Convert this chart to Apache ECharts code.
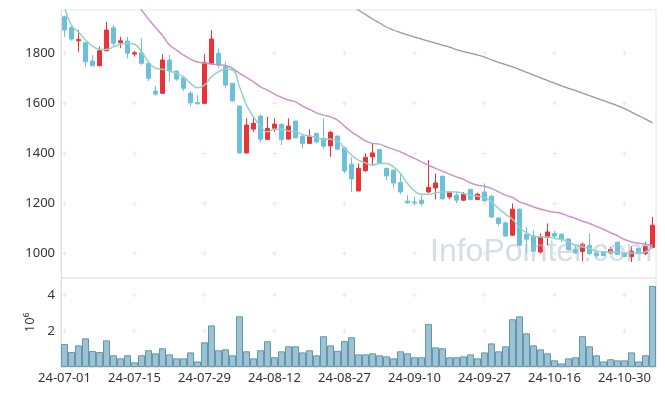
<!DOCTYPE html>
<html><head><meta charset="utf-8">
<script src="https://cdn.jsdelivr.net/npm/echarts@6/dist/echarts.min.js"></script>
<style>html,body{margin:0;padding:0;background:#fff}#c{width:665px;height:396px}</style>
</head><body><div id="c"></div>
<script>
const dates = ['24-07-01','24-07-02','24-07-03','24-07-04','24-07-05','24-07-08','24-07-09','24-07-10','24-07-11','24-07-12','24-07-15','24-07-16','24-07-17','24-07-18','24-07-19','24-07-22','24-07-23','24-07-24','24-07-25','24-07-26','24-07-29','24-07-30','24-07-31',
'24-08-01','24-08-02','24-08-05','24-08-06','24-08-07','24-08-08','24-08-09','24-08-12','24-08-13','24-08-14','24-08-16','24-08-19','24-08-20','24-08-21','24-08-22','24-08-23','24-08-26','24-08-27','24-08-28','24-08-29','24-08-30',
'24-09-02','24-09-03','24-09-04','24-09-05','24-09-06','24-09-09','24-09-10','24-09-11','24-09-12','24-09-13','24-09-19','24-09-20','24-09-23','24-09-24','24-09-25','24-09-26','24-09-27','24-09-30',
'24-10-02','24-10-04','24-10-07','24-10-08','24-10-10','24-10-11','24-10-14','24-10-15','24-10-16','24-10-17','24-10-18','24-10-21','24-10-22','24-10-23','24-10-24','24-10-25','24-10-28','24-10-29','24-10-30','24-10-31',
'24-11-01','24-11-04','24-11-05'];

const openP  = [1946,1904,1850,1842,1769,1750,1810,1902,1842,1849, 1797,1802,1760,1649,1640,1773,1729,1702,1640,1603, 1600,1760,1800,1746,1680,1589,1402,1497,1549,1456, 1500,1516,1457,1529,1469,1440,1480,1460,1430,1469, 1422,1357,1250,1331,1386,1416,1340,1333,1284,1209, 1206,1213,1246,1262,1309,1226,1233,1213,1256,1216, 1246,1229,1142,1122,1073,1177,1077,1069,1006,1064, 1080,1077,1058,1017,1008,1033,1002,1006,1002,1045, 1000,987,1020,1000,1024];
const closeP = [1893,1857,1855,1766,1750,1810,1893,1840,1850,1800, 1802,1760,1700,1637,1773,1730,1697,1660,1602,1598, 1764,1857,1753,1673,1610,1402,1513,1520,1456,1500, 1517,1456,1509,1462,1440,1469,1446,1429,1484,1417, 1330,1298,1340,1384,1402,1360,1310,1282,1246,1202, 1203,1200,1264,1282,1218,1244,1213,1237,1216,1237, 1210,1146,1120,1070,1177,1033,1057,1009,1066,1086, 1069,1057,1015,1002,1037,1000,991,992,1016,996, 988,1009,1000,1029,1113];
const lowP   = [1866,1850,1806,1746,1748,1748,1808,1830,1822,1780, 1786,1754,1689,1630,1638,1686,1690,1649,1589,1596, 1598,1753,1740,1660,1606,1400,1400,1486,1444,1454, 1486,1433,1455,1460,1420,1438,1440,1420,1386,1412, 1320,1246,1248,1326,1353,1358,1293,1260,1237,1200, 1193,1190,1240,1216,1216,1218,1200,1209,1212,1213, 1208,1144,1109,1066,1070,1030,1000,1006,1000,1033, 1060,1045,1012,1000,968,993,984,990,1000,994, 985,966,995,993,1020];
const highP  = [1950,1913,1893,1845,1793,1826,1926,1913,1866,1866, 1809,1860,1762,1669,1796,1793,1730,1705,1650,1633, 1796,1893,1820,1766,1682,1590,1540,1546,1556,1546, 1540,1520,1540,1530,1472,1496,1482,1540,1490,1472, 1428,1384,1360,1400,1440,1416,1342,1335,1320,1233, 1229,1233,1373,1320,1309,1250,1245,1246,1258,1243, 1280,1233,1144,1128,1200,1180,1105,1093,1080,1120, 1090,1080,1060,1035,1043,1080,1005,1008,1026,1046, 1002,1029,1022,1046,1146];

const maShort = [1985,1912,1885,1853,1829,1816,1815,1826,1836,1840, 1836,1806,1766,1740,1736,1729,1720,1706,1680,1662, 1673,1706,1726,1736,1733,1666,1593,1546,1509,1486, 1496,1496,1489,1486,1476,1469,1464,1456,1456,1450, 1420,1393,1373,1362,1353,1360,1360,1346,1320,1280, 1250,1237,1237,1242,1246,1246,1246,1240,1233,1229, 1224,1206,1180,1157,1137,1104,1082,1069,1066,1066, 1060,1057,1046,1033,1026,1020,1010,1006,1006,1005, 1002,1002,1002,1006,1029];
const maMid = [null,null,null,null,null,null,null,null,null,2050, 2010,1973,1937,1903,1871,1833,1813,1793,1777,1765, 1761,1757,1754,1751,1740,1720,1704,1686,1666,1653, 1637,1624,1613,1606,1589,1576,1562,1553,1546,1533, 1509,1486,1468,1450,1440,1437,1426,1416,1406,1393, 1380,1366,1353,1340,1329,1317,1306,1296,1282,1273, 1269,1260,1246,1233,1224,1206,1197,1186,1178,1170, 1165,1160,1149,1140,1129,1120,1108,1096,1083,1071, 1056,1046,1041,1037,1033];
const maLong = [null,null,null,null,null,null,null,null,null,null, null,null,null,null,null,null,null,null,null,null, null,null,null,null,null,null,null,null,null,null, null,null,null,null,null,null,null,null,null,null, null,1995,1973,1955,1937,1921,1905,1893,1883,1874, 1865,1857,1849,1841,1833,1825,1815,1807,1800,1793, 1785,1774,1764,1755,1746,1735,1724,1713,1702,1691, 1681,1670,1660,1651,1641,1631,1621,1611,1601,1591, 1579,1565,1551,1537,1522];

const volumeM = [1.28,0.83,1.20,1.59,0.89,0.83,1.48,0.65,0.48,0.65, 0.26,0.65,0.93,0.76,1.04,0.70,0.48,0.48,0.81,0.31, 1.37,2.31,0.93,0.98,0.65,2.81,0.87,0.48,0.93,1.43, 0.54,0.87,1.15,1.15,0.81,0.93,0.65,1.71,1.20,0.90, 1.44,1.65,0.70,0.70,0.76,0.65,0.59,0.48,0.87,0.76, 0.54,0.54,2.39,1.09,1.04,0.54,0.54,0.59,0.70,0.48, 0.81,1.31,0.87,1.15,2.65,2.81,1.87,1.20,0.98,0.76, 0.37,0.20,0.48,0.54,1.71,1.15,0.65,0.31,0.43,0.37, 0.37,0.81,0.31,0.65,4.50];

const priceTicks = [1000,1200,1400,1600,1800];
const volTicks = [2,4];
const labelEvery = 10;

const candles = dates.map((d,i)=>[openP[i], closeP[i], lowP[i], highP[i]]);
const crossMain = [], crossVol = [];
for (let i = 0; i < dates.length; i += labelEvery) {
  priceTicks.forEach(v => crossMain.push([i, v]));
  volTicks.forEach(v => crossVol.push([i, v]));
}

const UP = '#eb3237', DOWN = '#6cc0dc';
const FONT = 'Noto Sans';
const crossPath = 'path://M2,0h1v2h2v1h-2v2h-1v-2h-2v-1h2z';
const plain = v => String(v);

const chart = echarts.init(document.getElementById('c'), null, {renderer:'canvas'});
chart.setOption({
  animation: false,
  backgroundColor: '#fff',
  grid: [
    {left:61, right:9, top:10, height:268, show:true, borderColor:'#e6e6e6', borderWidth:1},
    {left:61, right:9, top:278, height:89, show:true, borderColor:'#e6e6e6', borderWidth:1}
  ],
  xAxis: [
    {type:'category', gridIndex:0, data:dates, boundaryGap:true,
     axisLine:{show:false}, axisTick:{show:false}, axisLabel:{show:false}, splitLine:{show:false}},
    {type:'category', gridIndex:1, data:dates, boundaryGap:true,
     axisLine:{show:true, lineStyle:{color:'#e6e6e6'}}, axisTick:{show:false},
     axisLabel:{interval:labelEvery-1, color:'#333', fontSize:13, fontFamily:FONT, margin:5},
     splitLine:{show:false}}
  ],
  yAxis: [
    {type:'value', gridIndex:0, min:902, max:1973,
     axisLine:{show:true, lineStyle:{color:'#e0e0e0'}}, axisTick:{show:false}, splitLine:{show:false},
     axisLabel:{showMinLabel:false, showMaxLabel:false, formatter:plain, color:'#333', fontSize:13, fontFamily:FONT, margin:6}},
    {type:'value', gridIndex:1, min:0, max:4.94, interval:2,
     name:'10⁶', nameLocation:'middle', nameRotate:90, nameGap:24,
     nameTextStyle:{color:'#333', fontSize:13, fontFamily:FONT},
     axisLine:{show:true, lineStyle:{color:'#e0e0e0'}}, axisTick:{show:false}, splitLine:{show:false},
     axisLabel:{showMinLabel:false, showMaxLabel:false, formatter:plain, color:'#333', fontSize:13, fontFamily:FONT, margin:6}}
  ],
  graphic: [{
    type:'text', left:430, top:236, z:100, silent:true,
    style:{text:'InfoPointer.com', fill:'rgba(165,192,210,0.5)', font:'32px "Liberation Sans", Arial, sans-serif'}
  }],
  series: [
    {type:'scatter', xAxisIndex:0, yAxisIndex:0, data:crossMain, symbol:crossPath, symbolSize:5,
     itemStyle:{color:'#e4e4e4'}, silent:true, z:1},
    {type:'scatter', xAxisIndex:1, yAxisIndex:1, data:crossVol, symbol:crossPath, symbolSize:5,
     itemStyle:{color:'#e4e4e4'}, silent:true, z:1},
    {type:'candlestick', xAxisIndex:0, yAxisIndex:0, data:candles, barWidth:5,
     itemStyle:{color:UP, color0:DOWN, borderColor:UP, borderColor0:DOWN, borderWidth:1}, z:2},
    {type:'line', xAxisIndex:0, yAxisIndex:0, data:maShort, smooth:true, showSymbol:false,
     lineStyle:{color:'#95d1c6', width:1.5}, z:3},
    {type:'line', xAxisIndex:0, yAxisIndex:0, data:maMid, smooth:true, showSymbol:false,
     lineStyle:{color:'#cc93c6', width:1.5}, z:3},
    {type:'line', xAxisIndex:0, yAxisIndex:0, data:maLong, smooth:true, showSymbol:false,
     lineStyle:{color:'#999999', width:1.3}, z:3},
    {type:'bar', xAxisIndex:1, yAxisIndex:1, data:volumeM, barCategoryGap:'0%',
     itemStyle:{color:'#9cc3d3', borderColor:'#6497ae', borderWidth:1}, z:2}
  ]
});
</script></body></html>
